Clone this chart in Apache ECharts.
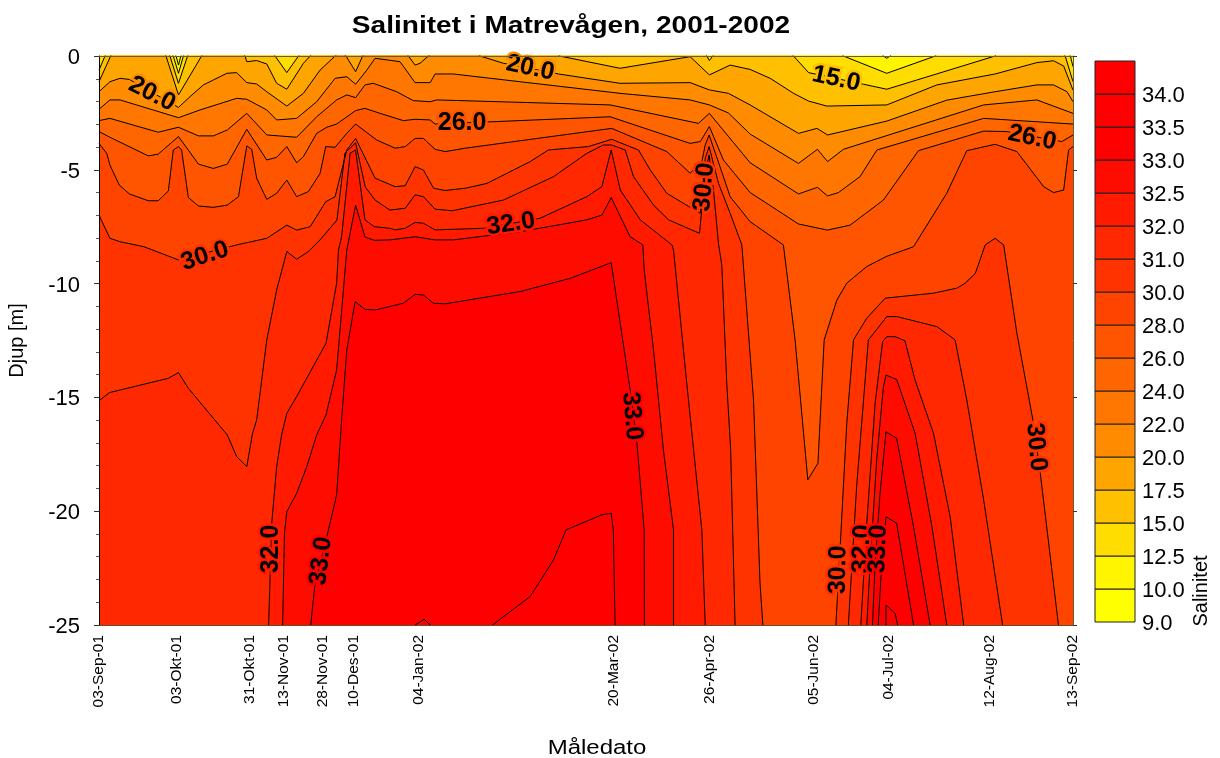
<!DOCTYPE html>
<html>
<head>
<meta charset="utf-8">
<title>Salinitet i Matrevågen</title>
<script src="https://cdn.jsdelivr.net/npm/echarts@6/dist/echarts.min.js"></script>
<style>
  html, body { margin: 0; padding: 0; background: #fff; }
  #chart { width: 1220px; height: 758px; }
</style>
</head>
<body>
<div id="chart"></div>
<script>
// measuring dates, as days after the first one
const dateDays = [0, 30, 58, 71, 86, 98, 123, 198, 235, 275, 304, 343, 375];
const dateLabels = ['03-Sep-01', '03-Okt-01', '31-Okt-01', '13-Nov-01', '28-Nov-01', '10-Des-01', '04-Jan-02',
  '20-Mar-02', '26-Apr-02', '05-Jun-02', '04-Jul-02', '12-Aug-02', '13-Sep-02'];

// isohalines: [day, depth].
// depth > 0 or < -25 means the line has left the plot there (surface / bottom)
const iso10 = [[0,.3],[28,.3],[29.7,0],[30.6,-.4],[31.5,0],[33,.3],[300.5,.3],[302,0],[303.3,-.1],[304.6,0],[306,.3],[375,.3]];
const iso125 = [[0,.3],[26.5,.3],[28.6,0],[30.6,-.76],[32.5,0],[34,.3],[284.5,.3],[286.6,0],[303.3,-.76],[322,0],[324,.3],[372.5,.3],[374,0],[375,-.47]];
const iso15 = [[0,-.62],[2.3,0],[4,.3],[25.5,.3],[27.3,0],[30.6,-1.2],[34.1,0],[35.5,.3],[66,.3],[67.8,0],[72.3,-.73],[76.8,0],[78.5,.3],
  [232.5,.3],[234,0],[235,-.2],[236.3,0],[238,.3],[265.5,.3],[267.4,0],[273.2,-.73],[294.3,-1.24],[303.3,-1.46],[345,0],[347,.3],[370,.3],[372,0],[375,-1.13]];
const iso175 = [[0,-1.13],[4.5,0],[6,.3],[24,.3],[25.8,0],[30.6,-1.71],[39.5,0],[41,.3],[54.5,.3],[56.2,0],[56.9,-.25],[60.7,-.2],[64.6,-.35],[68.4,-1.2],
  [72.3,-1.46],[78.7,-.32],[81.3,0],[83,.3],[175.5,.3],[177.3,0],[200.6,-.54],[227.6,-.03],[235,-.83],[243,-.4],[250.7,-.59],[258.4,-.98],[267.4,-1.64],
  [273.2,-1.98],[280.2,-2.2],[303.3,-2.15],[322.6,-1.27],[345,-.79],[361.1,-.29],[367.5,-.21],[371.4,-.44],[375,-1.5]];
const iso20 = [[0,-1.57],[4.2,-1.13],[8.1,-.98],[11.7,-1.03],[30.6,-2.26],[35,-1.79],[40.2,-1.27],[49.2,-.76],[53,-.73],[56.9,-1.17],[60.7,-1.23],[64.6,-1.57],
  [72.3,-2.2],[78.7,-1.64],[85.1,-.62],[90.9,0],[93,.2],[95.1,0],[98.8,-.69],[101.5,0],[103,.3],[117.6,.3],[119.1,0],[121.7,-.4],[123.6,-.32],[126.8,0],
  [130,.3],[145,.3],[146.7,0],[155.7,-.32],[176.9,-.79],[200.6,-1.2],[227.6,-1.17],[235,-1.49],[242.3,-1.64],[250.7,-2.15],[269.3,-3.4],[276.4,-3.18],
  [280.5,-3.47],[303.3,-2.86],[326.4,-1.94],[345,-1.57],[361.1,-1.27],[367.5,-1.27],[372.7,-1.57],[375,-2.01]];
const iso22 = [[0,-2.34],[4.2,-1.93],[8.1,-1.93],[30.6,-2.71],[38.9,-2.37],[53,-1.86],[56.9,-1.9],[64.6,-2.37],[68.4,-2.81],[76.1,-2.74],[83.8,-2.01],[90.9,-.98],
  [95.4,-.91],[98.8,-1.24],[103.1,-.62],[106.3,-.1],[115.9,-.25],[121.7,-1.17],[127.5,-1.17],[129.4,-.79],[136.4,-.79],[200.6,-1.64],[227.6,-1.93],[235,-2.15],
  [242.3,-2.5],[250.7,-3.43],[269.3,-4.72],[276.6,-4.1],[280.5,-4.64],[286.6,-4.1],[340.6,-2.15],[361.1,-1.93],[375,-2.52]];
const iso24 = [[0,-2.84],[4.2,-2.74],[22.8,-3.35],[30.6,-3.13],[38.3,-3.51],[44,-3.51],[49.4,-3.25],[56.9,-2.52],[64.6,-3.47],[76.1,-3.57],[83.8,-2.67],[91.5,-1.93],
  [95.4,-1.71],[98.8,-1.83],[102.4,-1.27],[105.6,-1.2],[114.6,-1.57],[121,-1.96],[127.5,-2.01],[130,-1.93],[196.8,-2.15],[230.8,-2.96],[235,-2.52],[250.7,-4.69],
  [269.3,-6.06],[276.6,-5.77],[280.5,-6.15],[284.7,-6],[293,-5.3],[299.5,-4.13],[340.6,-2.74],[361.1,-2.89],[375,-2.99]];
const iso26 = [[0,-3.32],[4.2,-3.57],[19,-4.39],[22.8,-4.31],[30.6,-3.54],[38.3,-4.75],[44,-4.94],[49.4,-4.75],[56.9,-3.22],[64.6,-4.57],[68.4,-4.45],[72.3,-3.98],
  [76.1,-4.69],[78.7,-4.42],[83.8,-3.4],[87.7,-3.13],[91.5,-2.99],[98.8,-2.4],[102.4,-2.3],[108.2,-2.52],[117.2,-2.84],[121.7,-2.78],[127.5,-2.81],[129.4,-2.99],
  [151.2,-2.89],[196.8,-2.67],[227.6,-3.84],[231.5,-3.76],[235,-3.1],[240.4,-4.57],[250.7,-6],[269.3,-7.38],[280.5,-7.65],[289.2,-7.43],[302,-6.33],[315.5,-4.16],
  [340.6,-3.3],[349.5,-3.32],[370.7,-3.76],[375,-3.47]];
const iso28 = [[0,-3.84],[3,-4.28],[4.2,-4.79],[7.8,-5.67],[11.7,-6.06],[19,-6.36],[22.8,-6.36],[26.7,-5.93],[28.6,-4.13],[30.6,-3.98],[31.8,-4.13],[34.4,-6.22],
  [38.3,-6.59],[44,-6.65],[49.4,-6.55],[53.7,-6.18],[56.9,-3.95],[58.8,-4.1],[60.7,-5.37],[64.6,-6.3],[68.4,-6.03],[72.3,-5.45],[76.1,-6.18],[80.6,-5.96],[85.1,-5.16],
  [87.3,-3.98],[90.9,-4.01],[95.4,-3.4],[98.8,-2.99],[106.9,-3.69],[114,-4.05],[117.9,-3.98],[121.7,-3.62],[124.9,-3.62],[129.4,-4.1],[133.3,-4.2],[141,-4.05],
  [197.4,-3.18],[218.6,-4.2],[227.6,-5.15],[232.1,-4.64],[233.4,-3.91],[234.9,-3.47],[240.4,-5.3],[243,-6.18],[250.7,-7.28],[263.5,-8.3],[268,-12.47],[272.9,-18.62],
  [276.8,-17.89],[279.2,-12.47],[284.1,-10.72],[287.9,-9.98],[295.6,-9.25],[303.3,-8.8],[313.6,-8.38],[326.4,-6.03],[334.1,-4.16],[345,-3.88],[353.4,-4.2],[363.7,-5.74],
  [367.5,-6],[371.4,-5.89],[373.3,-4.13],[375,-3.98]];
const iso30 = [[0,-6.99],[4.2,-8.01],[8.1,-8.16],[17.3,-8.38],[30.6,-8.96],[53,-8.3],[64.6,-8.01],[72.3,-7.43],[76.1,-7.65],[81.3,-7.5],[87.3,-6.4],[90.9,-6.18],
  [95.4,-4.13],[98.8,-3.62],[106.3,-5.37],[114,-5.74],[117.9,-5.7],[121.7,-4.86],[124.9,-5.01],[128.8,-5.81],[133.3,-5.91],[141,-5.81],[149.3,-5.6],[166,-4.64],[173,-4.13],
  [188.4,-3.98],[197.4,-3.66],[207.7,-4.13],[212.2,-5],[218.6,-6.03],[227.6,-6.65],[231.5,-6.91],[233.4,-4.5],[234.9,-3.98],[238.5,-5.59],[243,-6.91],[247.5,-8.3],
  [252,-15.11],[254.5,-23.16],[255.6,-25],[256.6,-26],[282.7,-26],[283.7,-25],[284.3,-23.75],[285.4,-21.48],[287.9,-16.14],[290.5,-12.47],[295.6,-11.52],[302.7,-10.64],
  [321.3,-10.42],[330.3,-10.2],[333.5,-9.98],[337.4,-9.55],[341.2,-8.3],[345,-8.01],[348.3,-8.3],[353.4,-12.18],[359.8,-16.14],[362.4,-18.33],[369.4,-25],[370.4,-26],[375,-26]];
const iso31 = [[0,-15.15],[4,-14.79],[26.7,-14.16],[30.6,-13.91],[34.4,-14.6],[49.4,-16.65],[53,-17.6],[56.9,-18.04],[59.1,-16.58],[60.7,-15.99],[64.6,-12.47],[68.4,-10.28],
  [72.3,-8.59],[76.1,-8.93],[80.6,-8.59],[85.1,-8.08],[91.6,-7.21],[94.7,-4.26],[98.8,-3.82],[102.5,-5.75],[106.3,-6.33],[112,-6.77],[117.9,-6.69],[121.7,-6.1],[124.9,-6.18],
  [129.4,-6.73],[136,-6.8],[155.7,-6.33],[175,-5.3],[187.8,-4.28],[194.2,-3.91],[197.4,-3.91],[202.6,-4.13],[205.8,-5.3],[213.5,-6.55],[219.3,-7.2],[231.2,-7.79],[233.4,-5.15],
  [234.9,-4.35],[236.6,-5.89],[238.5,-8.23],[239.8,-9.2],[241.7,-14.38],[243.2,-17.3],[244.9,-25],[245.9,-26],[287.5,-26],[288.5,-25],[291.7,-18.9],[296.2,-12.48],[303.3,-11.45],
  [307.2,-11.45],[322.6,-11.89],[329.6,-12.47],[334.1,-15.11],[340.6,-19.5],[347.9,-25],[348.9,-26],[375,-26]];
const iso32 = [[0,-26],[64.3,-26],[65.3,-25],[65.9,-22.8],[66.5,-20.53],[68.4,-18.04],[70.3,-16.65],[72.3,-15.7],[76.1,-14.96],[87.4,-12.62],[91.5,-9.98],[92.2,-8.52],[93.4,-7.94],
  [96.7,-4.27],[98.8,-4.13],[102.4,-7.2],[106,-7.5],[112,-7.57],[114,-7.64],[117.9,-7.57],[121.7,-7.31],[124.9,-7.35],[129.4,-7.64],[148,-7.57],[169.8,-7.13],[187.8,-6.18],
  [193.6,-5.74],[197.2,-4.13],[200.7,-5.89],[208.4,-7.2],[220.6,-8.3],[221.2,-8.52],[226.3,-14.38],[232.1,-20.82],[233.4,-25],[234.4,-26],[292.3,-26],[293.3,-25],[295.6,-20.53],
  [298.8,-15.26],[301.7,-12.55],[303.3,-12.33],[306.5,-12.33],[310.3,-12.51],[314.2,-14.24],[321.3,-16.58],[327.7,-20.24],[332.9,-25],[333.9,-26],[375,-26]];
const iso325 = [[0,-26],[69.7,-26],[70.7,-25],[71.4,-20.97],[72.3,-20.02],[76.1,-19.21],[80,-18.04],[83.8,-16.65],[87.4,-15.77],[91.5,-13.79],[95.4,-8.52],[98.8,-6.55],[102.4,-7.95],
  [106,-8.1],[112,-8.08],[121.7,-7.94],[129.4,-8.08],[136.4,-8.08],[162.1,-7.72],[187.8,-7.2],[193.6,-6.99],[197.2,-6.22],[204.5,-7.94],[209.4,-8.3],[209.9,-9.4],[213.5,-12.91],
  [217.3,-17.3],[221.2,-20.82],[221.2,-25],[222,-26],[294.6,-26],[295.6,-25],[296.9,-22.3],[299.4,-17.75],[302,-14.53],[303,-14.02],[307.1,-14.21],[314.2,-16.57],[320.7,-20.68],
  [326.4,-25],[327.4,-26],[375,-26]];
const iso33 = [[0,-26],[80.5,-26],[81.5,-25],[83.2,-23.16],[87.7,-21.12],[91.5,-19.28],[93.5,-15.84],[95.4,-12.91],[98.6,-10.79],[102.4,-11.13],[106.3,-11.16],[117.2,-10.86],
  [121.7,-10.47],[124.9,-10.5],[128.7,-10.86],[133.2,-10.89],[162.1,-10.35],[181.4,-9.77],[197.2,-9.08],[204.5,-14.67],[207,-16.87],[209.9,-20.82],[210,-25],[211,-26],[296.8,-26],
  [297.8,-25],[298.8,-22.3],[300.7,-19.22],[303,-16.51],[307.1,-16.8],[313.6,-20.68],[320,-25],[321,-26],[375,-26]];
const iso335 = [[0,-26],[120.7,-26],[121.7,-25],[125.2,-24.75],[127.5,-25],[128.5,-26],[150.5,-26],[151.5,-25],[166,-23.75],[175,-22.14],[179.8,-20.82],[193.6,-20.16],[197.2,-20.09],
  [198,-20.82],[198.7,-25],[199.5,-26],[299,-26],[300,-25],[301.3,-22.44],[303,-20.24],[307.1,-20.53],[313.6,-25],[314.6,-26],[375,-26]];
const iso34 = [[0,-26],[302,-26],[303,-25],[303,-24.12],[306.5,-24.49],[307.5,-25],[308.5,-26],[375,-26]];

// colour bar, from the bottom up
const barLabels = ['9.0', '10.0', '12.5', '15.0', '17.5', '20.0', '22.0', '24.0', '26.0', '28.0', '30.0', '31.0', '32.0', '32.5', '33.0', '33.5', '34.0'];
const bandColors = ['#ffff00', '#fff500', '#ffdd00', '#ffc000', '#ffa500', '#ff8c00', '#ff7700', '#ff6600', '#ff5500', '#ff4400',
  '#ff3300', '#ff2800', '#ff1a00', '#ff0c00', '#ff0000', '#ff0000', '#ff0000'];

const isoLines = [iso10, iso125, iso15, iso175, iso20, iso22, iso24, iso26, iso28, iso30, iso31, iso32, iso325, iso33, iso335, iso34];

// contour labels
const labelTexts = ['20.0', '20.0', '15.0', '26.0', '26.0', '30.0', '32.0', '30.0', '33.0', '30.0', '32.0', '33.0', '30.0', '32.0', '33.0'];
const labelDays = [20.4, 166, 283.8, 139.8, 359.3, 40.8, 158.6, 233, 205.2, 360.8, 66.2, 85.5, 284.6, 293.8, 300];
const labelDepths = [-1.67, -.53, -1.01, -2.94, -3.6, -8.79, -7.38, -5.76, -15.82, -17.18, -21.66, -22.19, -22.58, -21.66, -21.66];
const labelAngles = [-27, -12, -12, 0, -12, 18, 8, 85, -85, -85, 90, 83, 89, 88, 88];

const font = 'Liberation Sans, Arial, sans-serif';

const chart = echarts.init(document.getElementById('chart'));

const contourSeries = isoLines.map((line, i) => ({
  type: 'line',
  xAxisIndex: 0,
  yAxisIndex: 0,
  data: line,
  showSymbol: false,
  symbol: 'none',
  silent: true,
  z: 2,
  lineStyle: { color: '#000', width: 1 },
  areaStyle: { color: bandColors[i + 1], opacity: 1, origin: 'start' }
}));

function stretchedText(text, x, y, fontSize, scaleX, fontWeight, rotation) {
  return {
    type: 'text', x: x, y: y, scaleX: scaleX, rotation: rotation || 0,
    style: { text: text, fontFamily: font, fontSize: fontSize, fontWeight: fontWeight || 'normal', fill: '#000', align: 'center', verticalAlign: 'middle' }
  };
}

const option = {
  animation: false,
  backgroundColor: '#fff',
  grid: [
    { left: 99, top: 56, width: 974, height: 569, show: true, backgroundColor: bandColors[0], borderWidth: 0, outerBoundsMode: 'none' },
    { left: 1095, top: 61, width: 40, height: 561, outerBoundsMode: 'none' }
  ],
  xAxis: [
    {
      type: 'value', gridIndex: 0, min: 0, max: 375, position: 'bottom', z: 5,
      splitLine: { show: false },
      axisLine: { onZero: false, lineStyle: { color: '#6b4a2a', width: 1 } },
      axisTick: { show: false },
      axisLabel: {
        customValues: dateDays,
        formatter: v => dateLabels[dateDays.indexOf(v)],
        rotate: 90, margin: 10, fontFamily: font, fontSize: 15.5, color: '#000',
        hideOverlap: false, showMinLabel: true, showMaxLabel: true
      }
    },
    {
      type: 'value', gridIndex: 0, min: 0, max: 375, position: 'top', z: 5,
      splitLine: { show: false },
      axisLine: { onZero: false, lineStyle: { color: '#6b5a3a', width: 1 } },
      axisTick: { show: false },
      axisLabel: { show: false }
    },
    { type: 'value', gridIndex: 1, min: 0, max: 1, show: false }
  ],
  yAxis: [
    {
      type: 'value', gridIndex: 0, min: -25, max: 0, interval: 5, position: 'left', z: 5,
      name: 'Djup [m]', nameLocation: 'middle', nameGap: 72,
      nameTextStyle: { fontFamily: font, fontSize: 20, color: '#000' },
      splitLine: { show: false },
      axisLine: { onZero: false, lineStyle: { color: '#000', width: 1 } },
      axisTick: { length: 5, lineStyle: { color: '#333' } },
      minorTick: { show: true, splitNumber: 5, length: 3, lineStyle: { color: '#555' } },
      minorSplitLine: { show: false },
      axisLabel: { margin: 19, verticalAlign: 'top', lineHeight: 4, fontFamily: font, fontSize: 22, color: '#000' }
    },
    {
      type: 'value', gridIndex: 0, min: -25, max: 0, interval: 5, position: 'right', z: 5,
      splitLine: { show: false },
      axisLine: { onZero: false, lineStyle: { color: '#6b5a3a', width: 1 } },
      axisTick: { length: 4, lineStyle: { color: '#333' } },
      axisLabel: { show: false }
    },
    {
      type: 'value', gridIndex: 1, min: 0, max: 17, interval: 1, position: 'right',
      splitLine: { show: false },
      axisLine: { show: false },
      axisTick: { show: false },
      axisLabel: {
        margin: 7, verticalAlign: 'top', lineHeight: 4, fontFamily: font, fontSize: 22, color: '#000',
        formatter: v => barLabels[v] || ''
      }
    }
  ],
  graphic: [
    stretchedText('Salinitet i Matrevågen, 2001-2002', 571, 27, 23, 1.22, 'bold'),
    stretchedText('Måledato', 597, 748, 20, 1.2),
    stretchedText('Salinitet', 1201, 591, 20, 1, 'normal', Math.PI / 2)
  ],
  series: contourSeries.concat([
    {
      // contour labels: the first text hides the line, the second is the label
      type: 'custom',
      xAxisIndex: 0,
      yAxisIndex: 0,
      silent: true,
      z: 4,
      data: labelTexts.map((t, i) => [labelDays[i], labelDepths[i]]),
      encode: { x: 0, y: 1 },
      renderItem(params, api) {
        const t = labelTexts[params.dataIndex];
        const p = api.coord([api.value(0), api.value(1)]);
        const band = bandColors[barLabels.indexOf(t)];
        const base = { text: t, fontFamily: font, fontSize: 25, fontWeight: 'bold', align: 'center', verticalAlign: 'middle' };
        const rotation = labelAngles[params.dataIndex] * Math.PI / 180;
        return {
          type: 'group',
          children: [
            { type: 'text', x: p[0], y: p[1], rotation: rotation, style: Object.assign({}, base, { fill: band, stroke: band, lineWidth: 5 }) },
            { type: 'text', x: p[0], y: p[1], rotation: rotation, style: Object.assign({}, base, { fill: '#000' }) }
          ]
        };
      }
    },
    {
      type: 'custom',
      xAxisIndex: 2,
      yAxisIndex: 2,
      silent: true,
      data: bandColors.map((c, i) => [i, i + 1]),
      encode: { y: [0, 1] },
      renderItem(params, api) {
        const a = api.coord([0, api.value(0)]);
        const b = api.coord([1, api.value(1)]);
        return {
          type: 'rect',
          shape: { x: a[0], y: b[1], width: b[0] - a[0], height: a[1] - b[1] },
          style: { fill: bandColors[params.dataIndex], stroke: '#222', lineWidth: 1 }
        };
      }
    }
  ])
};

chart.setOption(option);
</script>
</body>
</html>
